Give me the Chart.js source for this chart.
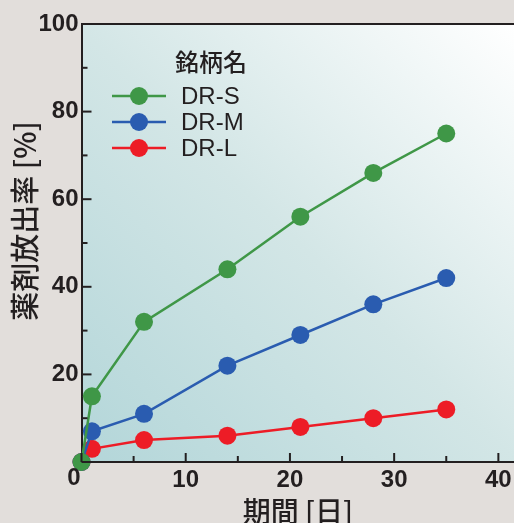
<!DOCTYPE html>
<html>
<head>
<meta charset="utf-8">
<script src="https://cdn.jsdelivr.net/npm/chart.js@4/dist/chart.umd.min.js"></script>
<style>
  html, body { margin: 0; padding: 0; background: #e2dedb; }
  #wrap { width: 514px; height: 523px; }
</style>
</head>
<body>
<div id="wrap"><canvas id="c" width="514" height="523"></canvas></div>
<script>
// 期間 [日]
var days = [0, 1, 6, 14, 21, 28, 35];
// 薬剤放出率 [%]
var drS = [0, 15, 32, 44, 56, 66, 75];
var drM = [0, 7, 11, 22, 29, 36, 42];
var drL = [0, 3, 5, 6, 8, 10, 12];
var seriesNames = ['DR-S', 'DR-M', 'DR-L'];
var seriesColors = ['#3f9747', '#2a5cb0', '#ed1c26'];
var legendTitle = '銘柄名';
var xTitle = '期間 [日]';
var yTitle = '薬剤放出率 [%]';

function pts(ys) {
  return days.map(function (d, i) { return { x: d, y: ys[i] }; });
}

var tickFont = { family: '"Liberation Sans", Arial, sans-serif', size: 24, weight: 'bold' };
var cjkFont = '"Noto Sans CJK JP", "Liberation Sans", sans-serif';

// 背景グラデーション・目盛り・凡例・縦軸タイトルを描くプラグイン
var decor = {
  id: 'decor',
  beforeDraw: function (chart) {
    var ctx = chart.ctx, a = chart.chartArea;
    var g = ctx.createLinearGradient(a.left, a.bottom, a.right, a.top);
    g.addColorStop(0, '#b3d6d9');
    g.addColorStop(0.5, '#d3e6e6');
    g.addColorStop(1, '#ffffff');
    ctx.save();
    ctx.fillStyle = g;
    ctx.fillRect(a.left, a.top, a.right - a.left, a.bottom - a.top);
    ctx.restore();
  },
  afterDraw: function (chart) {
    var ctx = chart.ctx, a = chart.chartArea;
    var xs = chart.scales.x, ys = chart.scales.y;
    ctx.save();
    ctx.strokeStyle = '#231f20';
    ctx.lineWidth = 2;
    // 上の枠線
    ctx.beginPath();
    ctx.moveTo(a.left, a.top);
    ctx.lineTo(a.right, a.top);
    ctx.stroke();
    // 内向きの目盛り
    xs.ticks.forEach(function (t) {
      var px = xs.getPixelForValue(t.value);
      var len = t.value % 10 === 0 ? 9 : 6;
      ctx.beginPath();
      ctx.moveTo(px, a.bottom);
      ctx.lineTo(px, a.bottom - len);
      ctx.stroke();
    });
    ys.ticks.forEach(function (t) {
      var py = ys.getPixelForValue(t.value);
      var len = t.value % 20 === 0 ? 10 : 6;
      ctx.beginPath();
      ctx.moveTo(a.left, py);
      ctx.lineTo(a.left + len, py);
      ctx.stroke();
    });
    // 原点の「0」
    ctx.fillStyle = '#231f20';
    ctx.font = 'bold 24px "Liberation Sans", Arial, sans-serif';
    ctx.textAlign = 'center';
    ctx.textBaseline = 'middle';
    ctx.fillText('0', 74, 478);

    // 縦軸タイトル
    ctx.save();
    ctx.translate(25, 221);
    ctx.rotate(-Math.PI / 2);
    ctx.font = '500 29px ' + cjkFont;
    ctx.fillText(yTitle, 0, 0);
    ctx.restore();

    // 凡例
    ctx.textAlign = 'left';
    ctx.font = '500 24px "Noto Sans CJK JP", sans-serif';
    ctx.fillStyle = '#231f20';
    ctx.fillText(legendTitle, 175, 62);
    ctx.font = '24px "Liberation Sans", Arial, sans-serif';
    chart.data.datasets.forEach(function (ds, i) {
      var cy = 96 + i * 26;
      ctx.strokeStyle = ds.borderColor;
      ctx.lineWidth = 2.5;
      ctx.beginPath();
      ctx.moveTo(112, cy);
      ctx.lineTo(166, cy);
      ctx.stroke();
      ctx.fillStyle = ds.backgroundColor;
      ctx.beginPath();
      ctx.arc(139, cy, 9, 0, Math.PI * 2);
      ctx.fill();
      ctx.fillStyle = '#231f20';
      ctx.fillText(ds.label, 181, cy + 1);
    });
    ctx.restore();
  }
};

var datasets = [drS, drM, drL].map(function (ys, i) {
  return {
    label: seriesNames[i],
    data: pts(ys),
    borderColor: seriesColors[i],
    backgroundColor: seriesColors[i],
    borderWidth: 2.5,
    pointRadius: 9,
    pointHoverRadius: 9,
    pointBorderWidth: 0,
    tension: 0,
    clip: false
  };
});

new Chart(document.getElementById('c'), {
  type: 'line',
  data: { datasets: datasets },
  plugins: [decor],
  options: {
    responsive: false,
    animation: false,
    layout: { autoPadding: false, padding: { top: 24, right: 0, left: 0, bottom: 0 } },
    plugins: { legend: { display: false }, tooltip: { enabled: false } },
    scales: {
      x: {
        type: 'linear',
        min: 0,
        max: 41.5,
        afterBuildTicks: function (s) {
          s.ticks = [0, 5, 10, 15, 20, 25, 30, 35, 40].map(function (v) { return { value: v }; });
        },
        afterFit: function (s) { s.height = 61; s.paddingRight = 0; s.paddingLeft = 0; },
        grid: { display: false, drawTicks: false },
        border: { display: true, color: '#231f20', width: 2 },
        ticks: {
          color: '#231f20',
          font: tickFont,
          padding: 4,
          maxRotation: 0,
          callback: function (v) { return (v % 10 === 0 && v !== 0) ? v : ''; }
        },
        title: {
          display: true,
          text: xTitle,
          color: '#231f20',
          font: { family: cjkFont, size: 28, weight: '500', lineHeight: 0.8 },
          padding: { top: 0, bottom: 0 }
        }
      },
      y: {
        min: 0,
        max: 100,
        afterBuildTicks: function (s) {
          var t = [];
          for (var v = 0; v <= 100; v += 10) t.push({ value: v });
          s.ticks = t;
        },
        afterFit: function (s) { s.width = 81.5; s.paddingTop = 0; s.paddingBottom = 0; },
        grid: { display: false, drawTicks: false },
        border: { display: true, color: '#231f20', width: 2 },
        ticks: {
          color: '#231f20',
          font: tickFont,
          padding: 3,
          callback: function (v) { return (v % 20 === 0 && v !== 0) ? v : ''; }
        },
        title: { display: false }
      }
    }
  }
});
</script>
</body>
</html>
